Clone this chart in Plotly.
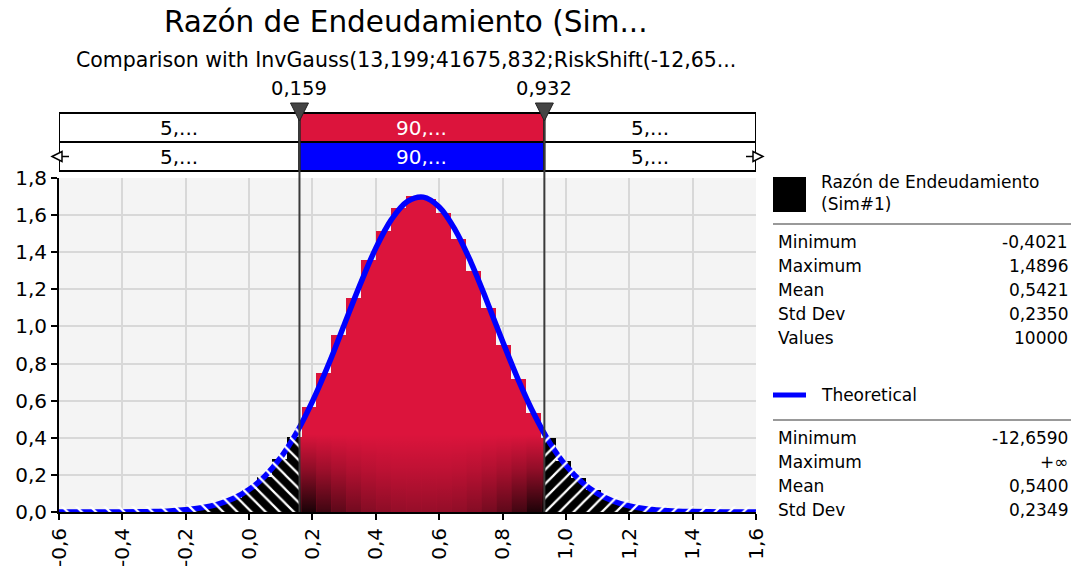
import numpy as np
import plotly.graph_objects as go

# ---------------- data ----------------
title_text = "Razón de Endeudamiento (Sim..."
subtitle_text = "Comparison with InvGauss(13,199;41675,832;RiskShift(-12,65..."

bin_start = -0.4021
bin_end = 1.4896
sim_density = [0.0021, 0.0021, 0.0042, 0.0063, 0.0148, 0.0254, 0.0444, 0.0761, 0.1247, 0.1903,
               0.2854, 0.4059, 0.5666, 0.7484, 0.9515, 1.1546, 1.3597, 1.5121, 1.6408, 1.7021,
               1.6895, 1.6112, 1.4693, 1.2980, 1.1017, 0.8986, 0.7188, 0.5327, 0.3975, 0.2728,
               0.1839, 0.1184, 0.0698, 0.0402, 0.0222, 0.0127, 0.0063, 0.0042, 0.0021, 0.0021]

theo_x = [-0.60, -0.55, -0.50, -0.45, -0.40, -0.35, -0.30, -0.25, -0.20, -0.15,
          -0.10, -0.05, 0.00, 0.05, 0.10, 0.15, 0.20, 0.25, 0.30, 0.35,
          0.40, 0.45, 0.50, 0.55, 0.60, 0.65, 0.70, 0.75, 0.80, 0.85,
          0.90, 0.95, 1.00, 1.05, 1.10, 1.15, 1.20, 1.25, 1.30, 1.35,
          1.40, 1.45, 1.50, 1.55, 1.60]
theo_y = [0.0000, 0.0000, 0.0001, 0.0002, 0.0006, 0.0013, 0.0028, 0.0059, 0.0119, 0.0227,
          0.0415, 0.0724, 0.121, 0.193, 0.294, 0.428, 0.596, 0.792, 1.008, 1.224,
          1.422, 1.578, 1.674, 1.697, 1.644, 1.522, 1.347, 1.139, 0.920, 0.711,
          0.525, 0.370, 0.250, 0.161, 0.099, 0.0582, 0.0327, 0.0176, 0.0091, 0.0044,
          0.0021, 0.0009, 0.0004, 0.0002, 0.0001]

marker_lo = 0.159
marker_hi = 0.932
marker_labels = ["0,159", "0,932"]
sim_pct_labels = ["5,...", "90,...", "5,..."]
theo_pct_labels = ["5,...", "90,...", "5,..."]

x_ticks = [-0.6, -0.4, -0.2, 0.0, 0.2, 0.4, 0.6, 0.8, 1.0, 1.2, 1.4, 1.6]
y_ticks = [0.0, 0.2, 0.4, 0.6, 0.8, 1.0, 1.2, 1.4, 1.6, 1.8]

sim_name = "Razón de Endeudamiento<br>(Sim#1)"
sim_stat_labels = ["Minimum", "Maximum", "Mean", "Std Dev", "Values"]
sim_stat_values = ["-0,4021", "1,4896", "0,5421", "0,2350", "10000"]
theo_name = "Theoretical"
theo_stat_labels = ["Minimum", "Maximum", "Mean", "Std Dev"]
theo_stat_values = ["-12,6590", "+∞", "0,5400", "0,2349"]

# ---------------- style / layout constants ----------------
W, H = 1073, 572
PL, PR, PT, PB = 59, 756, 178, 512
FONT = "DejaVu Sans"
RED = "#DC143C"
BLUE = "#0000FF"
XMIN, XMAX = -0.6, 1.6
PXU = (XMAX - XMIN) / (PR - PL)  # data units per pixel (x)


def xp(px):
    return (px - PL) / (PR - PL)


def yp(py):
    return (PB - py) / (PB - PT)


def fmt(v, d=1):
    return f"{v:.{d}f}".replace(".", ",")


def txt(x, y, text, size, color="black", xanchor="center", xref="paper", yanchor="middle", align="center"):
    return dict(xref=xref, yref="paper", x=x, y=y, text=text, showarrow=False,
                xanchor=xanchor, yanchor=yanchor, align=align,
                font=dict(family=FONT, size=size, color=color))


# ---------------- histogram pieces (split at the markers) ----------------
nb = len(sim_density)
bw = (bin_end - bin_start) / nb
edges = [bin_start + k * bw for k in range(nb + 1)]
mid = {"x": [], "w": [], "h": [], "l": [], "r": []}
tail = {"x": [], "w": [], "h": []}
for k, h in enumerate(sim_density):
    a, b = edges[k], edges[k + 1]
    cuts = [a] + [m for m in (marker_lo, marker_hi) if a < m < b] + [b]
    for l, r in zip(cuts[:-1], cuts[1:]):
        c = (l + r) / 2
        if marker_lo <= c <= marker_hi:
            mid["x"].append(c); mid["w"].append(r - l); mid["h"].append(h)
            mid["l"].append(l); mid["r"].append(r)
        else:
            tail["x"].append(c); tail["w"].append(r - l); tail["h"].append(h)

fig = go.Figure()
fig.add_trace(go.Bar(x=mid["x"], y=mid["h"], width=mid["w"], marker=dict(color=RED, line=dict(width=0)),
                     hoverinfo="skip", showlegend=False))
fig.add_trace(go.Bar(x=tail["x"], y=tail["h"], width=tail["w"], marker=dict(color="black", line=dict(width=0)),
                     hoverinfo="skip", showlegend=False))

# darkening gradient at the bottom of the central bars
centre = (marker_lo + marker_hi) / 2
half = (marker_hi - marker_lo) / 2
for l, r, h in zip(mid["l"], mid["r"], mid["h"]):
    d = min(1.0, abs((l + r) / 2 - centre) / half)
    alpha = 0.32 + 0.68 * d ** 2.5
    top = min(0.42, h)
    fig.add_trace(go.Scatter(
        x=[l, r, r, l, l], y=[0, 0, top, top, 0], mode="lines", line=dict(width=0),
        fill="toself",
        fillgradient=dict(type="vertical", start=0, stop=top,
                          colorscale=[[0, f"rgba(0,0,0,{alpha:.2f})"],
                                      [0.55, f"rgba(0,0,0,{alpha * 0.4:.2f})"],
                                      [1, "rgba(0,0,0,0)"]]),
        hoverinfo="skip", showlegend=False))

# theoretical curve
fig.add_trace(go.Scatter(x=theo_x, y=theo_y, mode="lines", line=dict(color=BLUE, width=5.5, shape="spline"),
                         hoverinfo="skip", showlegend=False))

# hatched tails (over bars and curve)
tx = np.array(theo_x)
ty = np.array(theo_y)
y_lo = float(np.interp(marker_lo, tx, ty))
y_hi = float(np.interp(marker_hi, tx, ty))
off = 0.03
lx = [x for x in theo_x if x < marker_lo] + [marker_lo]
ly = [y + off for x, y in zip(theo_x, theo_y) if x < marker_lo] + [max(y_lo, sim_density[11]) + off]
rx = [marker_hi] + [x for x in theo_x if x > marker_hi]
ry = [max(y_hi, sim_density[28]) + off] + [y + off for x, y in zip(theo_x, theo_y) if x > marker_hi]
for xs, ys, shp in [(lx, ly, "\\"), (rx, ry, "/")]:
    px_ = xs + [xs[-1], xs[0], xs[0]]
    py_ = ys + [-0.05, -0.05, ys[0]]
    fig.add_trace(go.Scatter(x=px_, y=py_, mode="lines", line=dict(width=0), fill="toself",
                             fillcolor="rgba(0,0,0,0)",
                             fillpattern=dict(shape=shp, fgcolor="white", bgcolor="rgba(0,0,0,0)",
                                              size=10, solidity=0.22, fillmode="replace"),
                             hoverinfo="skip", showlegend=False))

shapes = []
annotations = []

# top percentage boxes
row1_top, row1_bot = yp(113), yp(142)
row2_top, row2_bot = row1_bot, yp(171)
sections = [(XMIN, marker_lo), (marker_lo, marker_hi), (marker_hi, XMAX)]
for i, (a, b) in enumerate(sections):
    for (t, bt, fillc, labels) in [(row1_top, row1_bot, RED, sim_pct_labels),
                                   (row2_top, row2_bot, BLUE, theo_pct_labels)]:
        shapes.append(dict(type="rect", xref="x", yref="paper", x0=a, x1=b, y0=bt, y1=t,
                           fillcolor=fillc if i == 1 else "white", line=dict(color="black", width=2),
                           layer="above"))
        annotations.append(txt((a + b) / 2, (t + bt) / 2, labels[i], 20,
                               color="white" if i == 1 else "black", xref="x"))

# end arrows on the second row (paper coords so they are not clipped)
ym = (row2_top + row2_bot) / 2
dy = 5 / (PB - PT)
for tip_px, base_px, tailend_px in [(PL - 7, PL + 3, PL + 10), (PR + 7, PR - 3, PR - 10)]:
    shapes.append(dict(type="line", xref="paper", yref="paper", x0=xp(tailend_px), x1=xp(base_px), y0=ym, y1=ym,
                       line=dict(color="black", width=1.5), layer="above"))
    shapes.append(dict(type="path", xref="paper", yref="paper",
                       path=f"M {xp(tip_px)},{ym} L {xp(base_px)},{ym + dy} L {xp(base_px)},{ym - dy} Z",
                       fillcolor="white", line=dict(color="black", width=1.5), layer="above"))

# marker lines, triangles and labels
for m, lab in zip((marker_lo, marker_hi), marker_labels):
    shapes.append(dict(type="line", xref="x", yref="paper", x0=m, x1=m, y0=0, y1=row1_top,
                       line=dict(color="#3a3a3a", width=2), layer="above"))
    tw = 9 * PXU
    shapes.append(dict(type="path", xref="x", yref="paper",
                       path=f"M {m - tw},{yp(103)} L {m + tw},{yp(103)} L {m},{yp(121)} Z",
                       fillcolor="#444444", line=dict(color="#222222", width=1), layer="above"))
    annotations.append(txt(m, yp(89), lab, 19.5, xref="x"))

# titles
annotations.append(txt(xp(406), yp(22), title_text, 29.5))
annotations.append(txt(xp(406), yp(60), subtitle_text, 20.5))

# right-hand legend / stats panel
LX0, LX1 = 773, 1071
shapes.append(dict(type="rect", xref="paper", yref="paper", x0=xp(773), x1=xp(806), y0=yp(212), y1=yp(177),
                   fillcolor="black", line=dict(width=0)))
annotations.append(txt(xp(819), yp(193), sim_name, 17, xanchor="left", align="left"))
for yy in (224, 420):
    shapes.append(dict(type="line", xref="paper", yref="paper", x0=xp(LX0), x1=xp(LX1), y0=yp(yy), y1=yp(yy),
                       line=dict(color="#999999", width=2)))
for rows, y0 in [((sim_stat_labels, sim_stat_values), 242), ((theo_stat_labels, theo_stat_values), 438)]:
    for i, (lab, val) in enumerate(zip(*rows)):
        yy = yp(y0 + 24 * i)
        annotations.append(txt(xp(776), yy, lab, 17, xanchor="left"))
        annotations.append(txt(xp(1070), yy, val, 17, xanchor="right"))
shapes.append(dict(type="line", xref="paper", yref="paper", x0=xp(773), x1=xp(806), y0=yp(395), y1=yp(395),
                   line=dict(color=BLUE, width=5)))
annotations.append(txt(xp(819), yp(395), theo_name, 17, xanchor="left"))

axis_common = dict(showgrid=True, gridcolor="#d8d8d8", gridwidth=1.5, zeroline=False, automargin=False,
                   showline=True, linecolor="black", linewidth=2, ticks="outside", ticklen=6,
                   tickwidth=2, tickcolor="black", tickfont=dict(family=FONT, size=20, color="black"))

fig.update_layout(
    template="none",
    width=W, height=H, autosize=False,
    margin=dict(l=PL, r=W - PR, t=PT, b=H - PB, pad=0),
    paper_bgcolor="white", plot_bgcolor="#f4f4f4",
    barmode="overlay", bargap=0, showlegend=False,
    shapes=shapes, annotations=annotations,
    font=dict(family=FONT, color="black"),
    xaxis=dict(range=[XMIN, XMAX], tickvals=x_ticks, ticktext=[fmt(v) for v in x_ticks], tickangle=-90,
               **axis_common),
    yaxis=dict(range=[0, 1.8], tickvals=y_ticks, ticktext=[fmt(v) for v in y_ticks], **axis_common),
)

fig.write_html("out.html", config={"displayModeBar": False},
               post_script="document.body.style.margin='0';document.body.style.overflow='hidden';")
